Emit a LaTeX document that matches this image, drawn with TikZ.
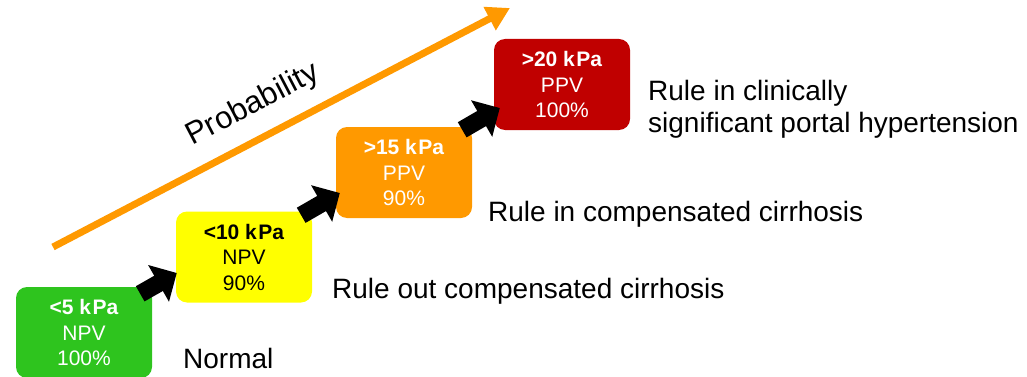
\documentclass[tikz,border=0pt]{standalone}
\usepackage{fontspec}
\setmainfont{Liberation Sans}
\usetikzlibrary{arrows.meta,calc}
\definecolor{stageGreen}{RGB}{46,196,30}
\definecolor{stageYellow}{RGB}{255,255,0}
\definecolor{stageOrange}{RGB}{255,153,0}
\definecolor{stageRed}{RGB}{192,0,0}
\newcommand{\boxfont}{\fontsize{21}{25.5}\selectfont}
\newcommand{\labelfont}{\fontsize{28}{31.5}\selectfont}
\newcommand{\kpa}{k\kern1.5pt Pa}
\begin{document}
\begin{tikzpicture}[x=1pt,y=-1pt,
  stagebox/.style={rectangle, rounded corners=11pt, minimum width=136pt,
    minimum height=91pt, inner sep=0pt, align=center, font=\boxfont, text=white},
  stepArrow/.style={line width=17.5pt, black,
    -{Triangle[length=21pt,width=41pt]}},
  sidelabel/.style={anchor=base west, inner sep=0pt, font=\labelfont, align=left}]
\useasboundingbox (0,0) rectangle (1027,377);

% rising probability arrow
\coordinate (pstart) at (53,247);
\coordinate (pend) at (510,8);
\draw[stageOrange, line width=7pt, -{Triangle[length=23pt,width=25pt]}] (pstart) -- (pend);
\node[rotate=27.6, font=\fontsize{31}{31}\selectfont, inner sep=0pt] (prob) at (253,105) {Probability};

% stiffness stages
\node[stagebox, fill=stageGreen] (s1) at (84,332.5) {\textbf{<5 \kpa}\\NPV\\100\%};
\node[stagebox, fill=stageYellow, text=black] (s2) at (244,257) {\textbf{<10 \kpa}\\NPV\\90\%};
\node[stagebox, fill=stageOrange] (s3) at (404,172.5) {\textbf{>15 \kpa}\\PPV\\90\%};
\node[stagebox, fill=stageRed] (s4) at (562,84.5) {\textbf{>20 \kpa}\\PPV\\100\%};

% step arrows between stages
\draw[stepArrow] ($(s1.north east)+(-12,7)$) -- ($(s2.west)+(1,16)$);
\draw[stepArrow] ($(s2.north east)+(-11,4)$) -- ($(s3.west)+(4,20.5)$);
\draw[stepArrow] ($(s3.north east)+(-10,3)$) -- ($(s4.west)+(6,23.5)$);

% interpretation of each stage (base anchor sits on the last line)
\node[sidelabel] (l1) at (183,368) {Normal};
\node[sidelabel] (l2) at (332,298) {Rule out compensated cirrhosis};
\node[sidelabel] (l3) at (488,221) {Rule in compensated cirrhosis};
\node[sidelabel] (l4) at (648,132) {Rule in clinically\\significant portal hypertension};
\end{tikzpicture}
\end{document}
